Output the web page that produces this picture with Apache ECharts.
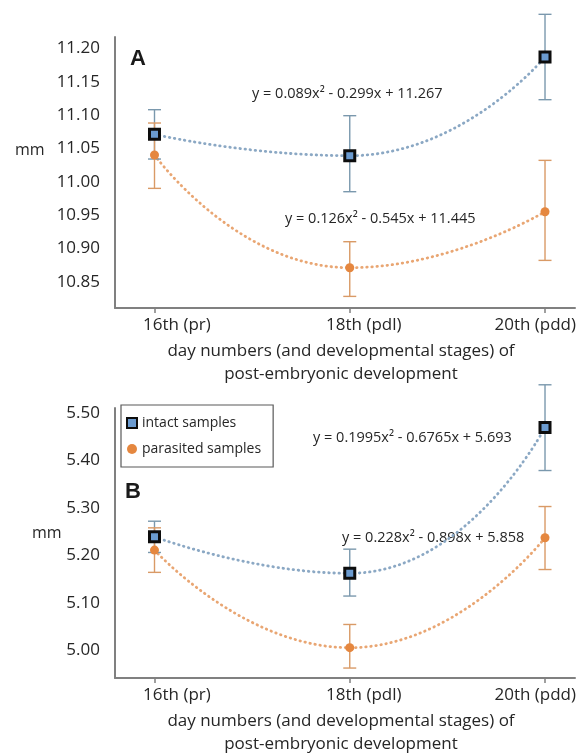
<!DOCTYPE html>
<html>
<head>
<meta charset="utf-8">
<script src="https://cdn.jsdelivr.net/npm/echarts@6/dist/echarts.min.js"></script>
<style>
html,body{margin:0;padding:0;background:#fff;}
#chart{width:579px;height:754px;}
</style>
</head>
<body>
<div id="chart"></div>
<script>
// ---------- data ----------
const categories = ['16th (pr)', '18th (pdl)', '20th (pdd)'];
const xIndex = [0, 1, 2];

// Panel A (mm)
const intactA = [11.071, 11.039, 11.187];
const intactA_low = [11.034, 10.985, 11.123];
const intactA_high = [11.108, 11.099, 11.251];
const parasA = [11.040, 10.871, 10.955];
const parasA_low = [10.990, 10.828, 10.882];
const parasA_high = [11.088, 10.910, 11.032];

// Panel B (mm)
const intactB = [5.239, 5.162, 5.470];
const intactB_low = [5.206, 5.114, 5.379];
const intactB_high = [5.272, 5.213, 5.560];
const parasB = [5.211, 5.005, 5.237];
const parasB_low = [5.164, 4.962, 5.170];
const parasB_high = [5.258, 5.054, 5.303];

// tick labels
const yTicksA = [10.85, 10.90, 10.95, 11.00, 11.05, 11.10, 11.15, 11.20];
const yTicksB = [5.00, 5.10, 5.20, 5.30, 5.40, 5.50];

// trend line equations (text)
const eqIntactA = 'y = 0.089x\u00B2 - 0.299x + 11.267';
const eqParasA = 'y = 0.126x\u00B2 - 0.545x + 11.445';
const eqIntactB = 'y = 0.1995x\u00B2 - 0.6765x + 5.693';
const eqParasB = 'y = 0.228x\u00B2 - 0.898x + 5.858';

const seriesNames = ['intact samples', 'parasited samples'];
const xAxisTitle = 'day numbers (and developmental stages) of\npost-embryonic development';

// ---------- styles ----------
const FONT = 'Open Sans';
const TXT = '#262626';
const AXIS = '#808080';
const C_INTACT = '#6b9bd0';
const C_PARAS = '#e5873f';
const C_ERR_INTACT = '#7a98ad';
const C_ERR_PARAS = '#d99a66';
const C_TREND_INTACT = '#8ba8c4';
const C_TREND_PARAS = '#e9a673';
const labelNudge = [0.115, 0.072, -0.05]; // label placement relative to tick (axis units)

function zip(xs, ys) { return xs.map((x, i) => [x, ys[i]]); }
function zip3(xs, a, b) { return xs.map((x, i) => [x, a[i], b[i]]); }

function errorSeries(gridIdx, lo, hi, color) {
  return {
    type: 'custom',
    xAxisIndex: gridIdx, yAxisIndex: gridIdx,
    clip: false,
    silent: true,
    z: 2,
    encode: { x: 0, y: [1, 2] },
    data: zip3(xIndex, lo, hi),
    renderItem: function (params, api) {
      const x = api.value(0);
      const pLo = api.coord([x, api.value(1)]);
      const pHi = api.coord([x, api.value(2)]);
      const w = 6.5;
      const st = { stroke: color, lineWidth: 1.4 };
      return {
        type: 'group',
        children: [
          { type: 'line', shape: { x1: pLo[0], y1: pLo[1], x2: pHi[0], y2: pHi[1] }, style: st },
          { type: 'line', shape: { x1: pHi[0] - w, y1: pHi[1], x2: pHi[0] + w, y2: pHi[1] }, style: st },
          { type: 'line', shape: { x1: pLo[0] - w, y1: pLo[1], x2: pLo[0] + w, y2: pLo[1] }, style: st }
        ]
      };
    }
  };
}

function trendSeries(gridIdx, ys, color) {
  return {
    type: 'line',
    xAxisIndex: gridIdx, yAxisIndex: gridIdx,
    data: zip(xIndex, ys),
    smooth: 0.55,
    showSymbol: false,
    symbol: 'none',
    silent: true,
    z: 1,
    lineStyle: { color: color, width: 2.8, type: [0.5, 4.6], cap: 'round' }
  };
}

function intactSeries(gridIdx, ys) {
  return {
    name: seriesNames[0],
    type: 'scatter',
    xAxisIndex: gridIdx, yAxisIndex: gridIdx,
    data: zip(xIndex, ys),
    symbol: 'rect',
    symbolSize: 10,
    z: 5,
    itemStyle: { color: C_INTACT, borderColor: '#0d0d0d', borderWidth: 3, opacity: 1 }
  };
}
function parasSeries(gridIdx, ys) {
  return {
    name: seriesNames[1],
    type: 'scatter',
    xAxisIndex: gridIdx, yAxisIndex: gridIdx,
    data: zip(xIndex, ys),
    symbol: 'circle',
    symbolSize: 9,
    z: 4,
    itemStyle: { color: C_PARAS, opacity: 1 }
  };
}

const labelPositions = xIndex.map((x, i) => x + labelNudge[i]);

function xAxisDef(gridIdx) {
  return {
    type: 'value',
    gridIndex: gridIdx,
    min: -0.2023,
    max: 2.1536,
    splitLine: { show: false },
    axisLine: { onZero: false, lineStyle: { color: AXIS, width: 2 } },
    axisTick: { show: true, customValues: xIndex, length: 5, lineStyle: { color: AXIS, width: 1.5 } },
    axisLabel: {
      customValues: labelPositions,
      margin: 9,
      color: TXT,
      fontFamily: FONT,
      fontSize: 17,
      formatter: function (v) { return categories[Math.round(v)]; }
    },
    name: xAxisTitle,
    nameLocation: 'middle',
    nameGap: 32,
    nameTextStyle: { fontFamily: FONT, fontSize: 17, color: TXT, lineHeight: 23, padding: [0, 8, 0, 0] }
  };
}

function yAxisDef(gridIdx, min, max, ticks) {
  return {
    type: 'value',
    gridIndex: gridIdx,
    min: min,
    max: max,
    splitLine: { show: false },
    axisLine: { show: true, onZero: false, lineStyle: { color: AXIS, width: 2 } },
    axisTick: { show: false },
    axisLabel: {
      customValues: ticks,
      margin: 15,
      color: TXT,
      fontFamily: FONT,
      fontSize: 17,
      formatter: function (v) { return v.toFixed(2); }
    }
  };
}

const chart = echarts.init(document.getElementById('chart'), null, { renderer: 'canvas' });

const eqStyle = { fontFamily: FONT, fontSize: 14.5, fill: TXT };

const option = {
  backgroundColor: '#ffffff',
  animation: false,
  textStyle: { fontFamily: FONT },
  grid: [
    { left: 115, top: 37, width: 460, height: 271, outerBoundsMode: 'none', containLabel: false },
    { left: 115, top: 408, width: 460, height: 270, outerBoundsMode: 'none', containLabel: false }
  ],
  xAxis: [xAxisDef(0), xAxisDef(1)],
  yAxis: [
    yAxisDef(0, 10.8106, 11.217, yTicksA),
    yAxisDef(1, 4.941, 5.511, yTicksB)
  ],
  legend: {
    data: seriesNames,
    orient: 'vertical',
    left: 121,
    top: 405,
    padding: [11, 12, 11, 5],
    itemGap: 12,
    itemWidth: 10,
    itemHeight: 10,
    borderColor: '#595959',
    borderWidth: 1.2,
    borderRadius: 0,
    backgroundColor: '#fff',
    textStyle: { fontFamily: FONT, fontSize: 14, color: TXT }
  },
  graphic: [
    { type: 'text', left: 130, top: 48, style: { text: 'A', fontFamily: 'Liberation Sans', fontWeight: 'bold', fontSize: 22, fill: '#1a1a1a' } },
    { type: 'text', left: 125, top: 481, style: { text: 'B', fontFamily: 'Liberation Sans', fontWeight: 'bold', fontSize: 22, fill: '#1a1a1a' } },
    { type: 'text', left: 15, top: 142, style: { text: 'mm', fontFamily: FONT, fontSize: 16, fill: TXT } },
    { type: 'text', left: 32, top: 525, style: { text: 'mm', fontFamily: FONT, fontSize: 16, fill: TXT } },
    { type: 'text', left: 252, top: 86, style: Object.assign({ text: eqIntactA }, eqStyle) },
    { type: 'text', left: 285, top: 211, style: Object.assign({ text: eqParasA }, eqStyle) },
    { type: 'text', left: 313, top: 430, style: Object.assign({ text: eqIntactB }, eqStyle) },
    { type: 'text', left: 342, top: 530, style: Object.assign({ text: eqParasB }, eqStyle) }
  ],
  series: [
    trendSeries(0, intactA, C_TREND_INTACT),
    trendSeries(0, parasA, C_TREND_PARAS),
    errorSeries(0, intactA_low, intactA_high, C_ERR_INTACT),
    errorSeries(0, parasA_low, parasA_high, C_ERR_PARAS),
    parasSeries(0, parasA),
    intactSeries(0, intactA),
    trendSeries(1, intactB, C_TREND_INTACT),
    trendSeries(1, parasB, C_TREND_PARAS),
    errorSeries(1, intactB_low, intactB_high, C_ERR_INTACT),
    errorSeries(1, parasB_low, parasB_high, C_ERR_PARAS),
    parasSeries(1, parasB),
    intactSeries(1, intactB)
  ]
};

chart.setOption(option);
</script>
</body>
</html>
